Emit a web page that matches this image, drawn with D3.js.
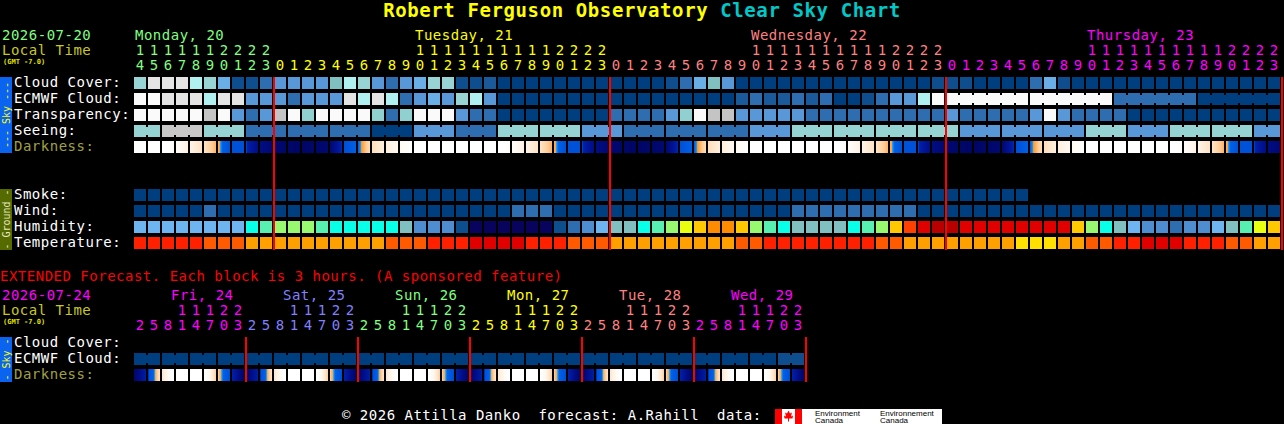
<!DOCTYPE html>
<html><head><meta charset="utf-8">
<script src="https://cdn.jsdelivr.net/npm/d3@7"></script>
<style>
html,body{margin:0;padding:0;background:#000;}
svg{display:block;}
text{font-family:"DejaVu Sans Mono",monospace;white-space:pre;}
</style>
</head><body>
<svg id="chart" width="1284" height="424"></svg>
<script>
// ---------------- DATA ----------------
const titleMain = "Robert Ferguson Observatory";
const titleSub = "Clear Sky Chart";
const startDate = "2026-07-20";
const extStartDate = "2026-07-24";
const gmtLabel = "(GMT -7.0)";
const firstHour = 14;

const dayNames = ["Monday, 20", "Tuesday, 21", "Wednesday, 22", "Thursday, 23"];
const dayColors = ["#80ff80", "#ffff00", "#ff8080", "#ff00ff"];
const extDayNames = ["Fri, 24", "Sat, 25", "Sun, 26", "Mon, 27", "Tue, 28", "Wed, 29"];
const extDayColors = ["#ff00ff", "#8080ff", "#80ff80", "#ffff00", "#ff8080", "#ff00ff"];
const extHours = [2, 5, 8, 11, 14, 17, 20, 23];

const skyLabels = ["Cloud Cover:", "ECMWF Cloud:", "Transparency:", "Seeing:", "Darkness:"];
const groundLabels = ["Smoke:", "Wind:", "Humidity:", "Temperature:"];
const extLabels = ["Cloud Cover:", "ECMWF Cloud:", "Darkness:"];

// cloud cover, percent (hourly, Mon 14h .. Thu 23h)
const cloudCover = [70,90,90,90,80,70,50,10,10,30,40,40,40,40,60,80,70,40,30,40,50,
  70,70,10,10,20,0,0,0,0,0,0,0,0,0,0,0,0,10,30,50,60,40,0,0,0,0,0,0,0,0,0,0,0,0,0,0,
  10,10,10,0,0,0,0,30,50,10,0,0,0,0,0,0,0,0,0,0,0,0,0,0,0];
// ECMWF cloud, percent
const ecmwfCloud = [100,100,90,90,90,80,90,90,40,40,40,30,40,40,40,90,80,90,80,30,40,
  50,40,70,80,40,0,0,0,0,0,0,0,0,0,0,0,0,0,0,0,0,0,20,30,20,20,30,20,30,0,
  0,10,30,40,40,80,100,100,100,100,100,100,100,100,100,100,100,100,100,30,30,30,30,30,30,0,0,0,0,0,0];
// transparency class 0 (transparent) .. 5 (too cloudy)
const transparency = [5,5,5,5,5,4,5,2,1,2,4,5,3,5,5,5,5,3,1,3,5,
  5,5,2,1,1,0,0,0,0,0,0,0,0,1,1,1,1,2,3,5,4,4,2,2,2,2,2,1,1,1,
  1,1,1,1,1,1,1,2,1,1,1,1,1,2,5,2,1,1,1,1,0,0,0,0,0,0,0,0,0,0,0];
// seeing, 1 (bad) .. 5 (excellent)
const seeing = [2,2,1,1,1,2,2,2,4,4,4,4,4,4,4,4,4,5,5,5,3,
  3,3,4,4,4,2,2,2,2,2,2,3,3,3,4,4,4,4,4,4,4,4,4,3,3,3,2,2,2,2,
  2,2,2,2,2,2,2,2,3,3,3,3,3,3,3,3,3,2,2,2,3,3,3,2,2,2,2,2,2,3,3];
// darkness (limiting-magnitude like value; negative = sun up) at each block edge (83 edges)
const darkness = [-10,-10,-8,-5.5,-3.8,-2.4,-0.6,2.8,3.0,5.0,
  5.8,6.3,6.5,6.3,5.8,3.1,0.8,-2.0,-3.4,-4.8,-6.5,-10,-10,-10,-10,-10,-8,-5.5,-3.8,-2.4,-0.6,2.8,3.0,5.0,
  5.8,6.3,6.5,6.3,5.8,3.1,0.8,-2.0,-3.4,-4.8,-6.5,-10,-10,-10,-10,-10,-8,-5.5,-3.8,-2.4,-0.6,2.8,3.0,5.0,
  5.8,6.3,6.5,6.3,5.8,3.1,0.8,-2.0,-3.4,-4.8,-6.5,-10,-10,-10,-10,-10,-8,-5.5,-3.8,-2.4,-0.6,2.8,3.0,5.0,
  5.8];
// smoke, ug/m3 (available for first 64 hours)
const smoke = [0,0,0,0,0,0,0,0,0,0,0,0,0,0,0,0,0,0,0,0,0,0,0,0,0,0,0,0,0,0,0,0,
  0,0,0,0,0,0,0,0,0,0,0,0,0,0,0,0,0,0,0,0,0,0,0,0,0,0,0,0,0,0,0,0];
// wind, mph
const wind = [3,3,3,3,3,8,3,3,3,3,3,3,3,3,3,3,3,3,3,3,3,
  3,3,3,3,3,3,8,8,8,3,3,3,3,3,3,3,3,3,3,3,3,3,3,3,3,3,8,8,8,8,
  8,8,8,8,8,3,3,3,3,3,3,3,3,3,3,3,3,3,3,3,3,3,3,3,3,3,3,3,3,3,3];
// relative humidity, percent
const humidity = [25,25,25,25,25,25,25,25,37,42,47,47,47,42,37,37,37,37,37,32,17,
  17,17,7,3,3,3,3,3,3,7,12,17,25,32,32,37,42,47,52,57,62,62,57,47,42,37,32,32,32,32,
  37,42,47,57,67,77,82,82,77,77,77,77,77,77,77,77,57,47,37,32,25,17,17,12,17,17,25,32,42,52,57];
// temperature, deg F
const temperature = [90,90,90,90,90,81,81,81,72,72,72,72,72,72,72,72,72,72,81,81,81,
  90,90,90,97,97,97,97,90,90,90,81,81,81,72,72,72,72,72,72,72,72,72,81,81,90,90,90,90,90,90,
  90,90,81,81,72,72,72,72,72,72,72,72,64,64,64,72,72,81,81,90,90,97,97,97,90,90,90,81,81,72,72];

// extended forecast (3-hour blocks, Fri 02h .. Wed 23h)
const extEcmwfCloud = [0,0,0,0,0,0,0,0,0,0,0,0,0,0,0,0,0,0,0,0,0,0,0,0,
  0,0,0,0,0,0,0,0,0,0,0,0,0,0,0,0,0,0,0,0,0,0,10,10];
const extDarkness = [6.2,3.4,-2.6,-7,-10,-7,-1.3,3.2,
  6.2,3.4,-2.6,-7,-10,-7,-1.3,3.2,
  6.2,3.4,-2.6,-7,-10,-7,-1.3,3.2,
  6.2,3.4,-2.6,-7,-10,-7,-1.3,3.2,
  6.2,3.4,-2.6,-7,-10,-7,-1.3,3.2,
  6.2,3.4,-2.6,-7,-10,-7,-1.3,3.2,
  6.2];

const footerText = "\u00a9 2026 Attilla Danko  forecast: A.Rahill  data:";

// ---------------- SCALES ----------------
const STEP = 14, BW = 12, X0 = 134;
const nMain = cloudCover.length;
const nExt = extEcmwfCloud.length;
const x = d3.scaleLinear().domain([0, nMain]).range([X0, X0 + nMain * STEP]);
const xe = d3.scaleLinear().domain([0, nExt]).range([X0, X0 + nExt * STEP]);

const cloudColor = d3.scaleThreshold()
  .domain([5, 15, 25, 35, 45, 55, 65, 75, 85, 95])
  .range(["#003f7f", "#0f4e8e", "#1a5a9a", "#2e6eb0", "#5898d8", "#6aaee8", "#80c0c0", "#98d4d4", "#b0f0f0", "#e4e4e4", "#fafafa"]);
const transColor = d3.scaleOrdinal().domain([0, 1, 2, 3, 4, 5])
  .range(["#003f7f", "#2e6eb0", "#5898d8", "#90d0d0", "#c4c4c4", "#fafafa"]);
const seeingColor = d3.scaleOrdinal().domain([5, 4, 3, 2, 1])
  .range(["#003f7f", "#2e6eb0", "#5898d8", "#96d4d4", "#c8c8c8"]);
const smokeColor = d3.scaleThreshold().domain([2]).range(["#003f7f", "#2e6eb0"]);
const windColor = d3.scaleThreshold().domain([6, 12]).range(["#003f7f", "#2e6eb0", "#5898d8"]);
const humColor = d3.scaleThreshold()
  .domain([5, 10, 15, 20, 30, 35, 40, 45, 50, 55, 60, 65, 70, 75, 80, 85])
  .range(["#08035d", "#0d4e8e", "#2e6eb0", "#4e8ed0", "#6eb4f0", "#80c0c0", "#08ffe8", "#58f0b0",
          "#98f870", "#e8ff10", "#ffc800", "#ff8c00", "#ff4000", "#ff2000", "#e00000", "#b80000", "#900000"]);
const tempColor = d3.scaleThreshold().domain([68, 77, 86, 95, 104])
  .range(["#ffe000", "#ffa000", "#ff5a00", "#ff2000", "#e00000", "#b00000"]);
const darkColor = d3.scaleLinear()
  .domain([-10, -6.5, -5, -3.5, -2.2, -1.2, -0.4, -0.01, 0, 0.35, 0.7, 3.0, 3.25, 4.5, 5.5, 6.5])
  .range(["#ffffff", "#ffffff", "#fffaf4", "#fff0e0", "#ffe0c0", "#ffcc98", "#ffaa50", "#ff9a10",
          "#30a8ff", "#0a80f8", "#0060e8", "#0050d8", "#0020a8", "#001090", "#000a78", "#000666"])
  .clamp(true);

// ---------------- DRAW ----------------
const svg = d3.select("#chart");
svg.append("rect").attr("width", 1284).attr("height", 424).attr("fill", "#000");
const defs = svg.append("defs");

function txt(g, s, px, py, fill, size, extra) {
  const t = g.append("text").attr("x", px).attr("y", py).attr("fill", fill)
    .attr("font-size", size).attr("letter-spacing", "0.5px").text(s);
  if (extra) extra(t);
  return t;
}

function drawRow(g, vals, y, xs, color, groupOf) {
  const gg = g.append("g");
  gg.selectAll("rect.b").data(vals).join("rect").attr("class", "b")
    .attr("x", (d, i) => xs(i)).attr("y", y).attr("width", BW).attr("height", BW)
    .attr("fill", d => color(d));
  if (groupOf) {
    const links = vals.map((d, i) => i).filter(i => i + 1 < vals.length && groupOf(i) === groupOf(i + 1));
    gg.selectAll("rect.l").data(links).join("rect").attr("class", "l")
      .attr("x", i => xs(i) + BW).attr("y", y + 2).attr("width", STEP - BW).attr("height", BW - 4)
      .attr("fill", i => color(vals[i]));
  }
}

let gradId = 0;
function drawDark(g, edges, y, xs) {
  const n = edges.length - 1;
  for (let i = 0; i < n; i++) {
    const id = "dg" + (gradId++);
    const lg = defs.append("linearGradient").attr("id", id).attr("x1", 0).attr("x2", 1).attr("y1", 0).attr("y2", 0);
    const a = edges[i], b = edges[i + 1];
    const N = 24;
    for (let k = 0; k <= N; k++) {
      const t = k / N;
      lg.append("stop").attr("offset", t).attr("stop-color", darkColor(a + (b - a) * t));
    }
    g.append("rect").attr("x", xs(i)).attr("y", y).attr("width", BW).attr("height", BW)
      .attr("fill", `url(#${id})`);
  }
}

// Title
const title = svg.append("text").attr("x", 642).attr("y", 17).attr("text-anchor", "middle")
  .attr("font-size", 19).attr("font-weight", "bold").attr("letter-spacing", "0.6px");
title.append("tspan").attr("fill", "#ffff00").text(titleMain + " ");
title.append("tspan").attr("fill", "#00c8c8").text(titleSub);

// Header left
txt(svg, startDate, 2, 40, "#80ff80", 14);
txt(svg, "Local Time", 2, 55, "#c8c820", 14);
txt(svg, gmtLabel, 3, 64, "#e0e000", 7, t => t.attr("font-weight", "bold").attr("letter-spacing", "0px"));

// hour labels main
const hg = svg.append("g");
for (let i = 0; i < nMain; i++) {
  const h = (firstHour + i) % 24;
  const dayIdx = Math.floor((firstHour + i) / 24);
  const c = dayColors[dayIdx];
  const cx = x(i) + BW / 2;
  hg.append("text").attr("x", cx).attr("y", 70).attr("text-anchor", "middle").attr("fill", c)
    .attr("font-size", 14).text(h % 10);
  if (h >= 10) hg.append("text").attr("x", cx).attr("y", 55).attr("text-anchor", "middle").attr("fill", c)
    .attr("font-size", 14).text(Math.floor(h / 10));
}
dayNames.forEach((nm, d) => {
  const firstIdx = Math.max(d * 24 - firstHour, 0);
  const idx = Math.max(d * 24 - firstHour + 10, firstIdx);
  txt(svg, nm, x(idx) + 1, 40, dayColors[d], 14);
});

// Side bars
function sideBar(y0, y1, fill, label, tfill) {
  svg.append("rect").attr("x", 0).attr("y", y0).attr("width", 12).attr("height", y1 - y0).attr("fill", fill);
  svg.append("text").attr("transform", `translate(10,${(y0 + y1) / 2}) rotate(-90)`)
    .attr("text-anchor", "middle").attr("fill", tfill).attr("font-size", 10).text(label);
}
sideBar(77, 153, "#0a64f0", "--- Sky ---", "#ffff00");
sideBar(189, 250, "#556b00", "- Ground -", "#e8e8c0");
sideBar(337, 382, "#0a64f0", "- Sky -", "#ffff00");

// Row labels
const rowY = [77, 93, 109, 125, 141];
skyLabels.forEach((l, k) => txt(svg, l, 14, rowY[k] + 10, l === "Darkness:" ? "#a0a040" : "#ffffff", 14));
const gRowY = [189, 205, 221, 237];
groundLabels.forEach((l, k) => txt(svg, l, 14, gRowY[k] + 10, "#ffffff", 14));

// Rows
const g = svg.append("g");
drawRow(g, cloudCover, rowY[0], x, cloudColor);
drawRow(g, ecmwfCloud, rowY[1], x, cloudColor, i => i < 58 ? "h" + i : "s" + Math.floor((i - 58) / 6));
drawRow(g, transparency, rowY[2], x, transColor);
drawRow(g, seeing, rowY[3], x, seeingColor, i => i < 2 ? -1 : Math.floor((i - 2) / 3));
drawDark(g, darkness, rowY[4], x);
drawRow(g, smoke, gRowY[0], x, smokeColor);
drawRow(g, wind, gRowY[1], x, windColor);
drawRow(g, humidity, gRowY[2], x, humColor);
drawRow(g, temperature, gRowY[3], x, tempColor);

// midnight lines main
const mids = d3.range(1, 5).map(d => d * 24 - firstHour);
svg.append("g").selectAll("rect").data(mids).join("rect")
  .attr("x", i => x(i) - 1).attr("y", 77).attr("width", 2).attr("height", 173).attr("fill", "#ff0000");

// Extended
txt(svg, "EXTENDED Forecast. Each block is 3 hours. (A sponsored feature)", 0, 281, "#ff0000", 14);
txt(svg, extStartDate, 2, 300, "#ff00ff", 14);
txt(svg, "Local Time", 2, 315, "#c8c820", 14);
txt(svg, gmtLabel, 3, 324, "#e0e000", 7, t => t.attr("font-weight", "bold").attr("letter-spacing", "0px"));
const eg = svg.append("g");
for (let i = 0; i < nExt; i++) {
  const d = Math.floor(i / 8), h = extHours[i % 8];
  const c = extDayColors[d];
  const cx = xe(i) + BW / 2;
  eg.append("text").attr("x", cx).attr("y", 330).attr("text-anchor", "middle").attr("fill", c).attr("font-size", 14).text(h % 10);
  if (h >= 10) eg.append("text").attr("x", cx).attr("y", 315).attr("text-anchor", "middle").attr("fill", c).attr("font-size", 14).text(Math.floor(h / 10));
}
extDayNames.forEach((nm, d) => txt(svg, nm, xe(d * 8 + 3) - 5, 300, extDayColors[d], 14));
const eRowY = [337, 353, 369];
extLabels.forEach((l, k) => txt(svg, l, 14, eRowY[k] + 10, l === "Darkness:" ? "#a0a040" : "#ffffff", 14));
drawRow(g, extEcmwfCloud, eRowY[1], xe, cloudColor, i => Math.floor(i / 2));
drawDark(g, extDarkness, eRowY[2], xe);
svg.append("g").selectAll("rect").data(d3.range(1, 7).map(d => d * 8)).join("rect")
  .attr("x", i => xe(i) - 1).attr("y", 337).attr("width", 2).attr("height", 45).attr("fill", "#ff0000");

// Footer
txt(svg, footerText, 342, 420, "#ffffff", 14);
const fg = svg.append("g");
fg.append("rect").attr("x", 775).attr("y", 409).attr("width", 167).attr("height", 15).attr("fill", "#ffffff");
fg.append("rect").attr("x", 775).attr("y", 409).attr("width", 7).attr("height", 15).attr("fill", "#ff0000");
fg.append("rect").attr("x", 795).attr("y", 409).attr("width", 7).attr("height", 15).attr("fill", "#ff0000");
fg.append("path").attr("d", "M788.5,410.5 L790,413.5 L792,412.5 L791,416.5 L793,415.5 L792.5,418.5 L789,418.5 L789,421.5 L788,421.5 L788,418.5 L784.5,418.5 L784,415.5 L786,416.5 L785,412.5 L787,413.5 Z").attr("fill", "#ff0000");
const envFont = t => t.style("font-family", "'Liberation Sans',Arial,sans-serif").attr("font-size", 8).attr("fill", "#000");
envFont(fg.append("text").attr("x", 815).attr("y", 416).text("Environment"));
envFont(fg.append("text").attr("x", 815).attr("y", 423).text("Canada"));
envFont(fg.append("text").attr("x", 880).attr("y", 416).text("Environnement"));
envFont(fg.append("text").attr("x", 880).attr("y", 423).text("Canada"));
</script>
</body></html>
